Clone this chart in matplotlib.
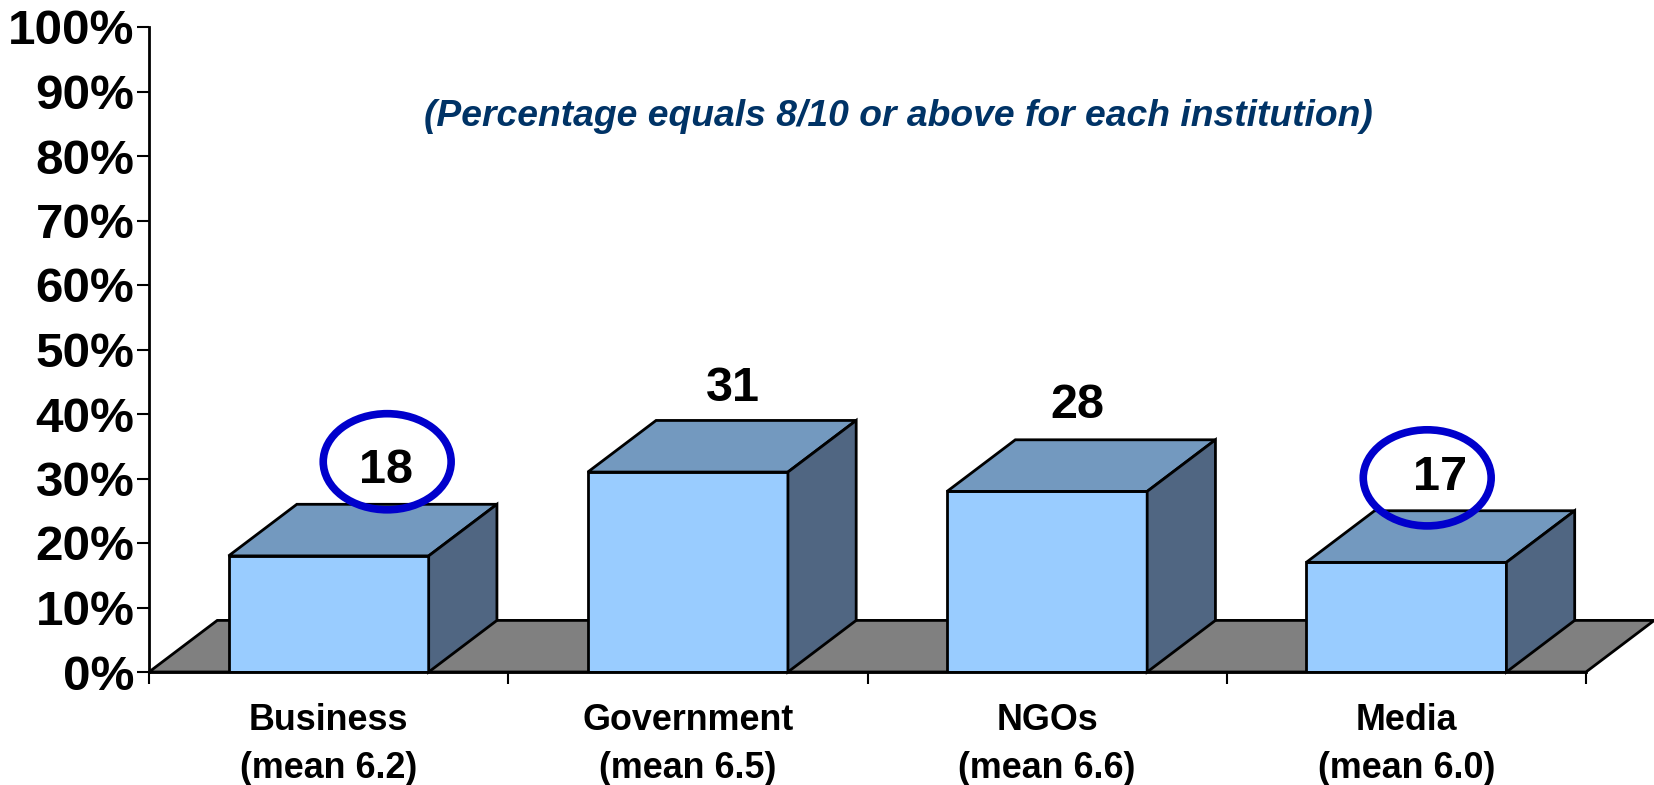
import matplotlib
matplotlib.use('Agg')
import matplotlib.pyplot as plt
from matplotlib.patches import Polygon, Ellipse

plt.rcParams['font.family'] = ['Liberation Sans', 'DejaVu Sans']

categories = ['Business\n(mean 6.2)', 'Government\n(mean 6.5)', 'NGOs\n(mean 6.6)', 'Media\n(mean 6.0)']
values = [18, 31, 28, 17]
ytick_values = [0, 10, 20, 30, 40, 50, 60, 70, 80, 90, 100]
note = '(Percentage equals 8/10 or above for each institution)'

# label spots were moved by hand in the original, so they are not centred
label_x = [0.66, 1.625, 2.585, 3.595]
label_y = [31.3, 43.9, 41.3, 30.1]
circled = [0, 3]
circle_x = [0.663, 3.558]
circle_y = [32.6, 30.1]

FRONT = '#99CCFF'
TOP = '#7399BF'
SIDE = '#506682'
FLOOR = '#808080'
BAR_W = 0.557
DEPTH_X = 0.19
DEPTH_Y = 8.0

W, H = 1654, 785
fig = plt.figure(figsize=(W / 100, H / 100), dpi=100)
ax = fig.add_axes([149 / W, 1 - 672 / H, (1586 - 149) / W, (672 - 27) / H])
ax.set_xlim(0, 4)
ax.set_ylim(0, 100)

# floor of the 3d chart
ax.add_patch(Polygon([(0, 0), (DEPTH_X, DEPTH_Y), (4 + DEPTH_X, DEPTH_Y), (4, 0)], closed=True,
                     facecolor=FLOOR, edgecolor='black', linewidth=2, clip_on=False, zorder=1))

centers = [i + 0.5 for i in range(len(values))]
ax.bar(centers, values, width=BAR_W, color=FRONT, edgecolor='black', linewidth=2, zorder=3)

for c, v in zip(centers, values):
    left = c - BAR_W / 2
    right = c + BAR_W / 2
    top = [(left, v), (right, v), (right + DEPTH_X, v + DEPTH_Y), (left + DEPTH_X, v + DEPTH_Y)]
    side = [(right, 0), (right + DEPTH_X, DEPTH_Y), (right + DEPTH_X, v + DEPTH_Y), (right, v)]
    ax.add_patch(Polygon(top, closed=True, facecolor=TOP, edgecolor='black', linewidth=2,
                         clip_on=False, zorder=3))
    ax.add_patch(Polygon(side, closed=True, facecolor=SIDE, edgecolor='black', linewidth=2,
                         clip_on=False, zorder=3))

for x, y, v in zip(label_x, label_y, values):
    ax.text(x, y, str(v), ha='center', va='center', fontsize=35, fontweight='bold', color='black', zorder=6)

for i, x, y in zip(circled, circle_x, circle_y):
    ax.add_patch(Ellipse((x, y), 0.356, 14.9, facecolor='none', edgecolor='#0000CC', linewidth=5.5,
                         clip_on=False, zorder=5))

ax.text(0.5214, 0.862, note, transform=ax.transAxes, ha='center', va='center', fontsize=26.8,
        fontweight='bold', fontstyle='italic', color='#003366')

for s in ['top', 'right']:
    ax.spines[s].set_visible(False)
ax.spines['left'].set_linewidth(2)
ax.spines['bottom'].set_linewidth(2)
ax.spines['bottom'].set_zorder(4)

ax.set_yticks(ytick_values)
ax.set_yticklabels([f'{t}%' for t in ytick_values], fontsize=35.6, fontweight='bold')
ax.tick_params(axis='y', length=8.5, width=1.5, pad=2)

ax.set_xticks(range(5))
ax.set_xticklabels([])
ax.tick_params(axis='x', which='major', length=8.5, width=1.5)
ax.set_xticks(centers, minor=True)
ax.set_xticklabels(categories, minor=True, fontsize=25.8, fontweight='bold', linespacing=1.5)
ax.tick_params(axis='x', which='minor', length=0, pad=22)

fig.savefig('out.png', dpi=100)
